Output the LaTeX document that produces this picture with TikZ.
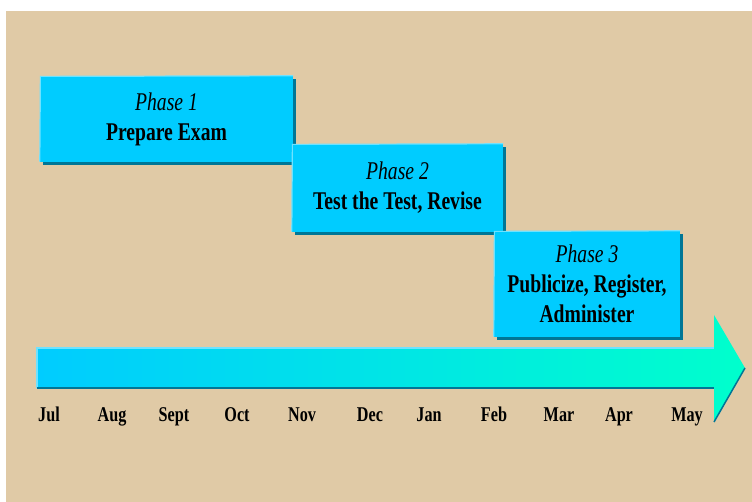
\documentclass[tikz,border=0pt]{standalone}
\usepackage{fontspec}
\setmainfont{Liberation Serif}[FakeStretch=0.77]
\usetikzlibrary{shadows}

\definecolor{bgtan}{RGB}{224,202,166}
\definecolor{boxcyan}{RGB}{0,204,255}
\definecolor{boxshade}{RGB}{0,118,150}
\definecolor{boxlight}{RGB}{110,226,255}
\definecolor{arrowsea}{RGB}{0,255,204}

\tikzset{
  phasebox/.style={fill=boxcyan, inner sep=0pt, align=center,
    font=\fontsize{25.5}{30}\selectfont,
    drop shadow={shadow xshift=3pt, shadow yshift=-3pt, fill=boxshade, opacity=1}},
  hilite/.style={boxlight, line width=1.2pt},
  monthlabel/.style={font=\fontsize{21}{25}\selectfont\bfseries, anchor=base},
}

\begin{document}
\begin{tikzpicture}[x=1pt, y=-1pt]

    \useasboundingbox (0,0) rectangle (752,502);
    \fill[white] (0,0) rectangle (752,502);
    \fill[bgtan] (6,11) rectangle (752,502);

    % phases
    \node[phasebox, minimum width=253, minimum height=86] (phase1) at (166.5,119)
        {\textit{Phase 1}\\\textbf{Prepare Exam}};
    \draw[hilite] ([yshift=0.6pt]phase1.south west) -- ([xshift=0.6pt,yshift=-0.6pt]phase1.north west) -- (phase1.north east);

    \node[phasebox, minimum width=211, minimum height=88] (phase2) at (397.5,188)
        {\textit{Phase 2}\\\textbf{Test the Test, Revise}};
    \draw[hilite] ([yshift=0.6pt]phase2.south west) -- ([xshift=0.6pt,yshift=-0.6pt]phase2.north west) -- (phase2.north east);

    \node[phasebox, minimum width=186, minimum height=106] (phase3) at (587,284)
        {\textit{Phase 3}\\\textbf{Publicize, Register,}\\\textbf{Administer}};
    \draw[hilite] ([yshift=0.6pt]phase3.south west) -- ([xshift=0.6pt,yshift=-0.6pt]phase3.north west) -- (phase3.north east);

    % time line
    \shade[left color=boxcyan, right color=arrowsea]
        (37,348) -- (714,348) -- (714,315) -- (745,368) -- (714,422) -- (714,388) -- (37,388) -- cycle;
    \draw[hilite] (37,388) -- (37,348) -- (714,348);
    \draw[boxshade, line width=1.5pt] (37,388) -- (714,388);
    \draw[boxshade, line width=1.5pt] (745,368) -- (714,422);

    \foreach \m/\x in {Jul/49, Aug/112, Sept/174, Oct/237, Nov/302, Dec/370,
                       Jan/429, Feb/494, Mar/559, Apr/619, May/687}
        \node[monthlabel] (\m) at (\x,421) {\m};

\end{tikzpicture}
\end{document}
